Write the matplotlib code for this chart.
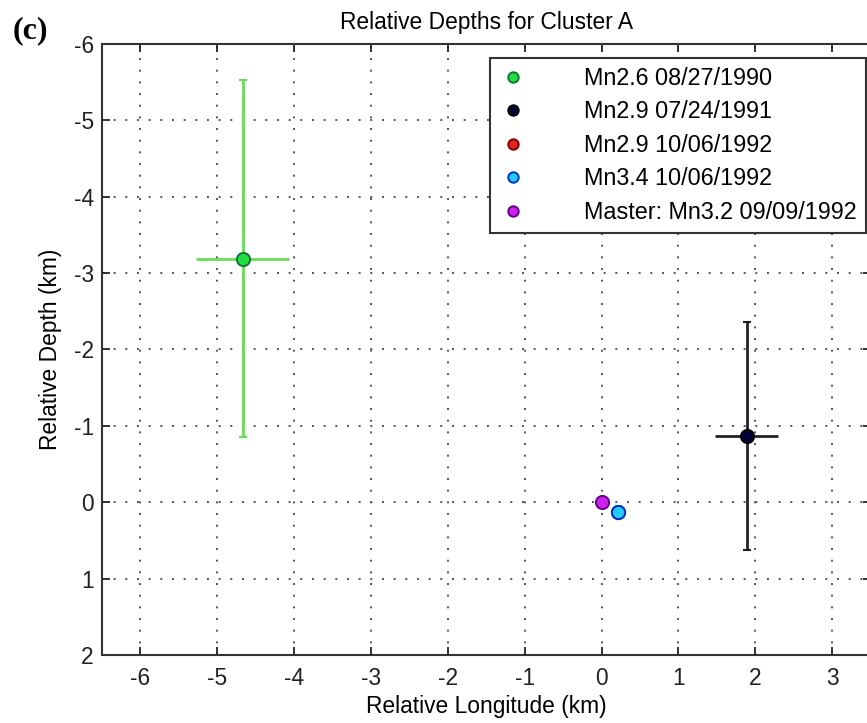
import matplotlib
matplotlib.use("Agg")
import matplotlib.pyplot as plt

# Event data: relative longitude / depth (km) with uncertainties
labels = ["Mn2.6 08/27/1990", "Mn2.9 07/24/1991", "Mn2.9 10/06/1992",
          "Mn3.4 10/06/1992", "Master: Mn3.2 09/09/1992"]
lon = [-4.67, 1.89, 0.22, 0.22, 0.0]
depth = [-3.19, -0.87, 0.13, 0.13, 0.0]
lon_err = [0.6, 0.41, 0.0, 0.0, 0.0]
depth_err = [2.34, 1.49, 0.0, 0.0, 0.0]
face = ["#22dd44", "#000033", "#dd2222", "#22ccff", "#cc22ee"]
edge = ["#117733", "#000000", "#880000", "#0033cc", "#660088"]
bar_color = ["#66dd55", "#222222", None, None, None]

xticks = [-6, -5, -4, -3, -2, -1, 0, 1, 2, 3]
yticks = [-6, -5, -4, -3, -2, -1, 0, 1, 2]

plt.rcParams['font.family'] = ['Liberation Sans', 'DejaVu Sans']
plt.rcParams['axes.unicode_minus'] = False
FS = 16.4

fig = plt.figure(figsize=(8.67, 7.23), dpi=100)
ax = fig.add_axes([0.1176, 0.0941, 0.8865, 0.845])

# error bars first, so the markers sit on top
for i in range(len(labels)):
    if bar_color[i] is None:
        continue
    ax.errorbar(lon[i], depth[i], yerr=depth_err[i], fmt='none',
                ecolor=bar_color[i], elinewidth=2, capsize=3, capthick=1.5, zorder=3)
    ax.errorbar(lon[i], depth[i], xerr=lon_err[i], fmt='none',
                ecolor=bar_color[i], elinewidth=2, capsize=0, zorder=3)

handles = []
for i in range(len(labels)):
    h, = ax.plot(lon[i], depth[i], 'o', ms=9.5, mfc=face[i], mec=edge[i],
                 mew=1.4, linestyle='none', label=labels[i], zorder=4)
    handles.append(h)

ax.set_xlim(-6.5, 3.5)
ax.set_ylim(2, -6)
ax.set_xticks(xticks)
ax.set_yticks(yticks)
ax.grid(True, color='#555555', linestyle=(0, (1, 5)), linewidth=1.4)
ax.tick_params(direction='in', length=6, width=1.3, labelsize=FS,
               top=True, right=True, colors='#222222')
ax.tick_params(axis='x', pad=9)
ax.tick_params(axis='y', pad=6)
for s in ax.spines.values():
    s.set_linewidth(1.5)
    s.set_color('#333333')

ax.set_xlabel("Relative Longitude (km)", fontsize=FS, labelpad=3)
ax.set_ylabel("Relative Depth (km)", fontsize=FS, labelpad=8)
ax.set_title("Relative Depths for Cluster A", fontsize=FS, pad=11)

leg = ax.legend(handles=handles, loc='upper right', bbox_to_anchor=(0.994, 0.977),
                borderaxespad=0, fontsize=16.8, fancybox=False, framealpha=1,
                edgecolor='#333333', handlelength=1.2, handletextpad=2.45,
                labelspacing=0.45, borderpad=0.38, numpoints=1)
leg.get_frame().set_linewidth(1.5)
for h in leg.legend_handles:
    h.set_markersize(7.5)

fig.text(0.014, 0.958, "(c)", fontsize=23, fontweight='bold',
         family=['Liberation Serif', 'DejaVu Serif'], va='center')

fig.savefig("out.png", dpi=100)
